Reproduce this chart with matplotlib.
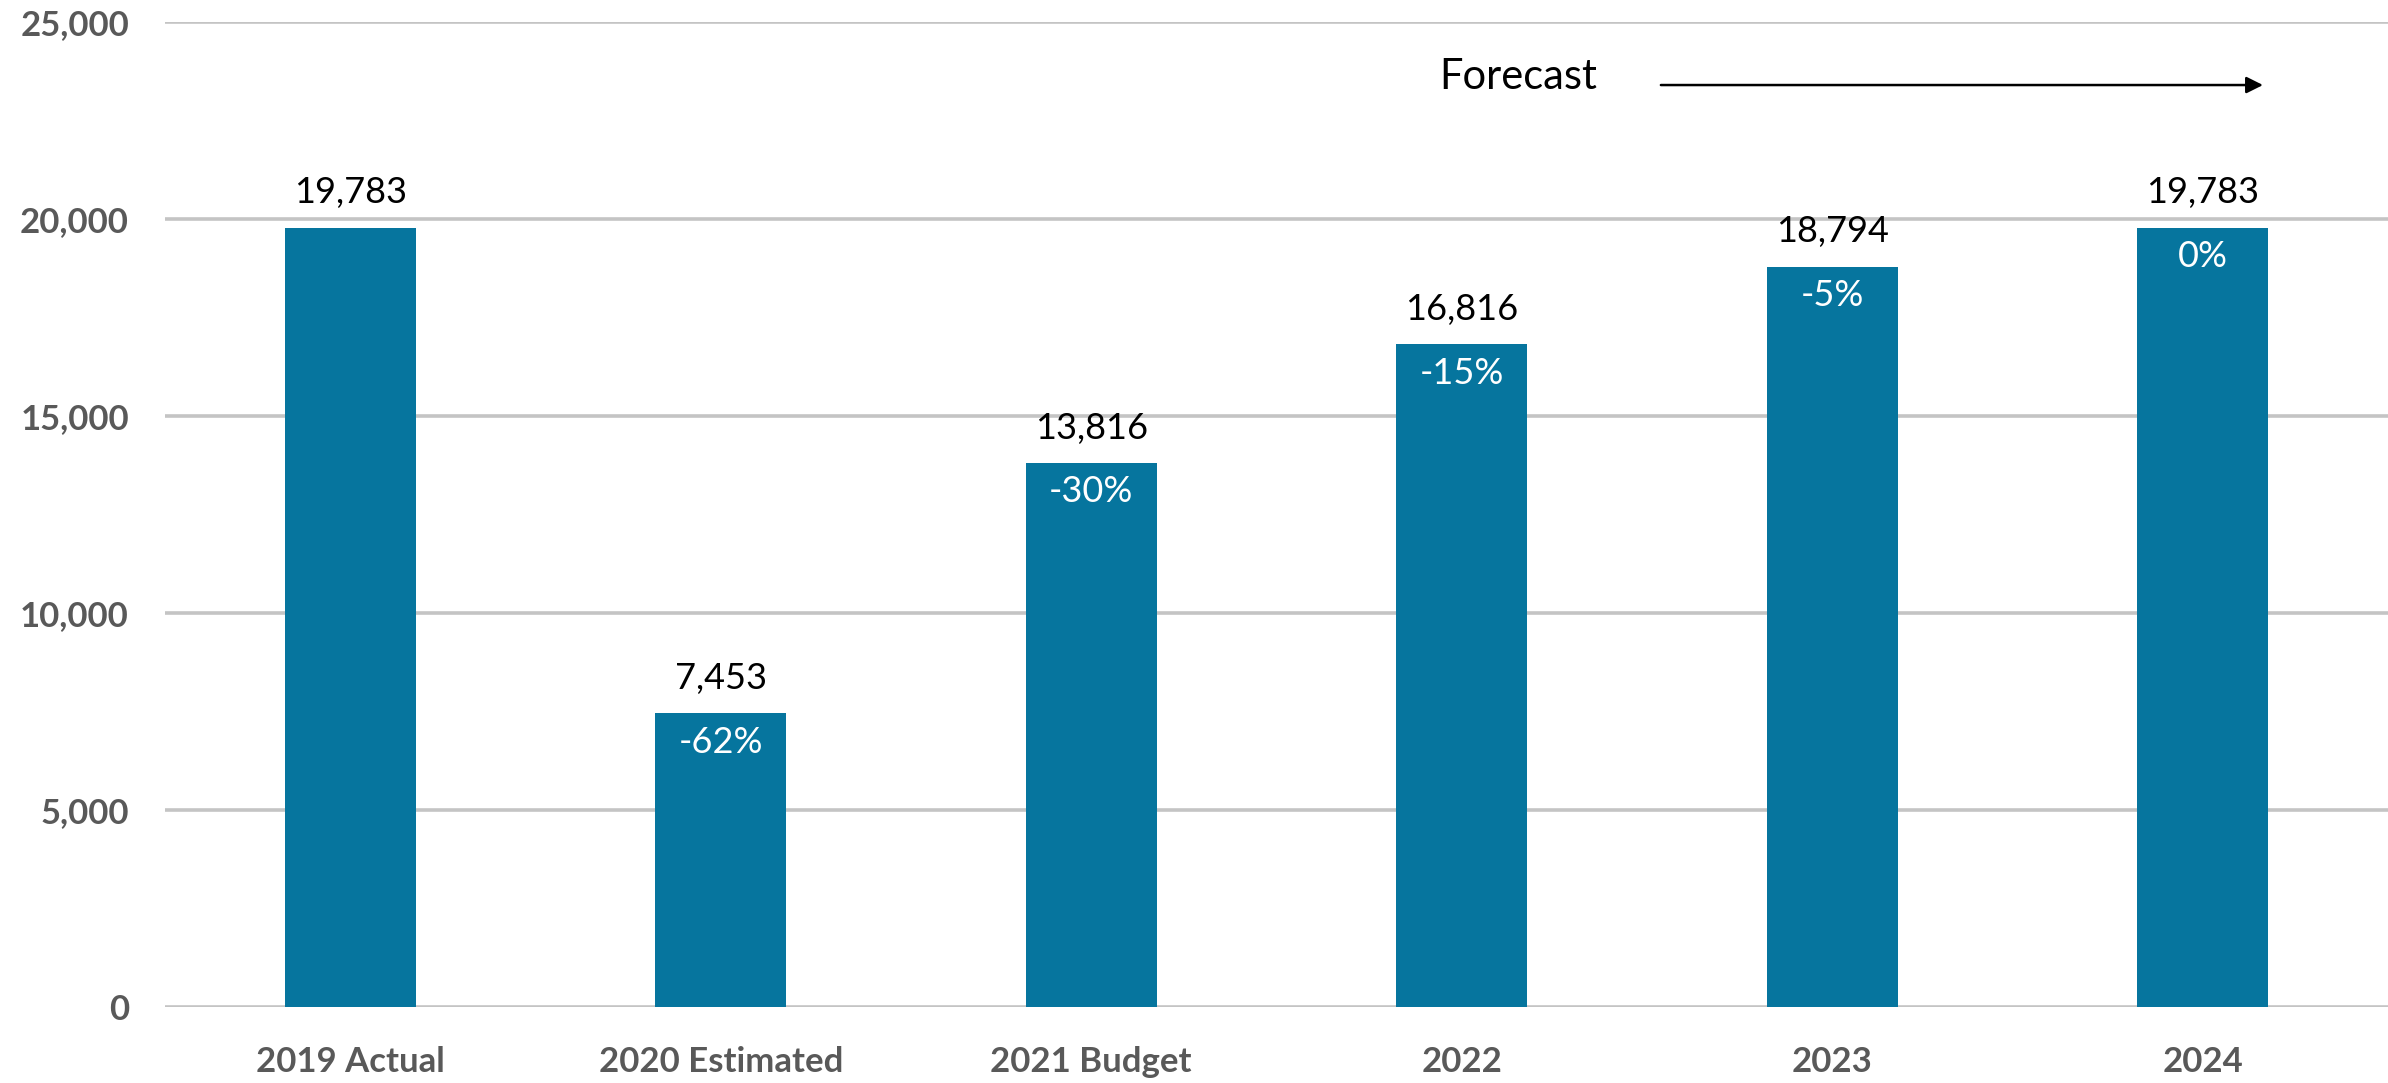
import numpy as np
import matplotlib
matplotlib.use('agg')
import matplotlib.pyplot as plt

# data
categories = ['2019 Actual', '2020 Estimated', '2021 Budget', '2022', '2023', '2024']
values = [19783, 7453, 13816, 16816, 18794, 19783]
pct_labels = ['', '-62%', '-30%', '-15%', '-5%', '0%']

plt.rcParams['font.family'] = ['Lato', 'DejaVu Sans']

barColor = '#06759e'
tickColor = '#595959'

fig = plt.figure(figsize=(23.88, 10.83), dpi=100)
ax = fig.add_axes([165/2388, 1 - 1007/1083, 1 - 165/2388, (1007-22)/1083])

x = np.arange(len(categories))
ax.bar(x, values, width=0.353, color=barColor, zorder=3)

ax.set_xlim(-0.5, len(categories) - 0.5)
ax.set_ylim(0, 25000)
ax.set_yticks(np.arange(0, 25001, 5000))
ax.set_yticklabels(['{:,}'.format(v) for v in range(0, 25001, 5000)])
ax.set_xticks(x)
ax.set_xticklabels(categories)

ax.grid(axis='y', color='#c4c4c4', lw=2.6, zorder=0)
ax.set_axisbelow(True)
for s in ax.spines.values():
    s.set_visible(False)
ax.tick_params(length=0, labelsize=25, labelcolor=tickColor)
ax.tick_params(axis='y', pad=26)
ax.tick_params(axis='x', pad=28)
for lbl in ax.get_xticklabels() + ax.get_yticklabels():
    lbl.set_fontweight('bold')

# value labels above, change labels inside
for xi, v, p in zip(x, values, pct_labels):
    ax.annotate('{:,}'.format(v), (xi, v), xytext=(0, 13), textcoords='offset points',
                ha='center', va='bottom', fontsize=26, color='black')
    if p:
        ax.annotate(p, (xi, v), xytext=(0, -9), textcoords='offset points',
                    ha='center', va='top', fontsize=26, color='white')

# forecast arrow
ax.text(2.94, 23600, 'Forecast', fontsize=30, color='black', va='center', ha='left')
ax.annotate('', xy=(5.17, 23400), xytext=(3.53, 23400),
            arrowprops=dict(arrowstyle='-|>', color='black', lw=1.8, mutation_scale=25))

plt.savefig('out.png', dpi=100)
